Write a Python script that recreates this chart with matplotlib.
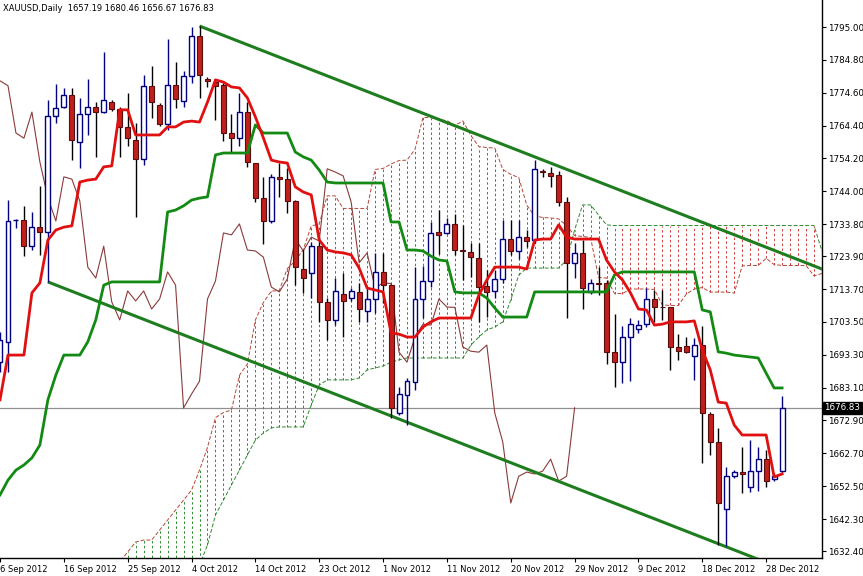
import numpy as np
import pandas as pd
import matplotlib
matplotlib.use('Agg')
import matplotlib.pyplot as plt
import matplotlib.transforms as mtransforms

# daily bars, XAUUSD 6 Sep 2012 .. 31 Dec 2012 (bar index 0..98)
opens = [1691.0, 1697.3, 1735.0, 1735.1, 1727.0, 1733.0, 1731.4, 1767.4, 1770.2, 1773.9,
         1759.3, 1768.0, 1770.2, 1768.6, 1771.7, 1769.6, 1764.0, 1759.9, 1754.0, 1776.7,
         1770.8, 1764.9, 1777.0, 1772.1, 1779.8, 1792.2, 1778.9, 1778.0, 1777.0, 1762.1,
         1760.5, 1768.6, 1752.8, 1742.0, 1734.8, 1748.5, 1747.8, 1741.0, 1719.9, 1718.7,
         1727.0, 1709.7, 1704.1, 1712.1, 1710.9, 1712.8, 1706.9, 1710.6, 1719.0, 1714.9,
         1675.2, 1680.8, 1684.8, 1710.6, 1716.2, 1731.4, 1731.1, 1733.9, 1725.8, 1725.2,
         1723.3, 1714.6, 1713.1, 1716.8, 1729.2, 1725.5, 1729.8, 1728.9, 1750.1, 1749.7,
         1749.1, 1740.7, 1721.8, 1724.9, 1712.8, 1715.6, 1715.6, 1694.1, 1691.0, 1698.8,
         1701.3, 1702.8, 1710.6, 1708.1, 1708.1, 1695.7, 1696.0, 1692.9, 1696.3, 1674.9,
         1666.2, 1645.4, 1655.6, 1656.9, 1652.2, 1657.2, 1660.9, 1654.7, 1657.19]
highs = [1700.5, 1741.3, 1735.3, 1739.5, 1737.6, 1745.7, 1772.4, 1777.3, 1776.1, 1776.1,
         1773.0, 1778.9, 1771.7, 1787.3, 1772.4, 1770.2, 1774.5, 1765.2, 1780.1, 1782.9,
         1771.4, 1791.3, 1784.2, 1781.4, 1795.0, 1795.3, 1779.5, 1779.0, 1777.6, 1768.0,
         1774.5, 1771.7, 1752.8, 1748.5, 1749.4, 1752.8, 1751.3, 1741.3, 1725.8, 1728.3,
         1729.8, 1711.0, 1717.1, 1718.7, 1714.0, 1715.6, 1714.0, 1724.9, 1724.9, 1715.2,
         1683.3, 1686.1, 1720.5, 1720.8, 1734.5, 1738.2, 1735.7, 1737.0, 1733.6, 1728.0,
         1728.0, 1719.6, 1719.6, 1735.1, 1735.1, 1735.1, 1732.0, 1753.7, 1751.0, 1751.6,
         1750.3, 1742.3, 1728.0, 1728.9, 1716.8, 1720.5, 1716.5, 1706.0, 1702.2, 1704.7,
         1704.1, 1714.0, 1713.4, 1713.4, 1708.1, 1699.7, 1698.8, 1698.5, 1702.2, 1675.5,
         1670.5, 1658.4, 1657.5, 1664.6, 1666.8, 1664.6, 1663.7, 1656.6, 1680.46]
lows = [1688.0, 1687.9, 1732.6, 1723.9, 1725.8, 1724.2, 1715.9, 1765.2, 1769.9, 1753.7,
        1751.3, 1761.5, 1754.7, 1768.3, 1769.0, 1754.7, 1758.1, 1736.0, 1752.2, 1766.8,
        1764.3, 1763.0, 1769.9, 1770.2, 1777.6, 1773.0, 1776.4, 1766.1, 1759.6, 1756.2,
        1758.1, 1751.6, 1740.7, 1727.7, 1734.2, 1742.3, 1737.3, 1715.0, 1712.4, 1710.9,
        1703.4, 1697.9, 1702.5, 1698.8, 1710.0, 1703.4, 1703.4, 1706.3, 1709.4, 1673.6,
        1674.6, 1671.5, 1682.3, 1704.7, 1714.3, 1724.6, 1730.8, 1724.2, 1716.5, 1717.4,
        1703.4, 1705.0, 1711.0, 1715.5, 1724.2, 1723.0, 1726.7, 1728.0, 1748.4, 1745.4,
        1739.5, 1704.7, 1717.1, 1707.5, 1712.0, 1711.8, 1690.4, 1683.3, 1684.5, 1685.1,
        1700.0, 1701.9, 1703.4, 1704.0, 1688.5, 1691.6, 1693.8, 1685.4, 1659.7, 1662.2,
        1634.2, 1633.9, 1655.0, 1650.4, 1650.7, 1651.0, 1652.2, 1654.0, 1656.67]
closes = [1697.9, 1734.8, 1735.1, 1727.0, 1733.0, 1731.4, 1767.4, 1769.9, 1773.9, 1759.9,
          1768.0, 1770.2, 1768.6, 1772.4, 1769.6, 1764.0, 1760.5, 1754.0, 1776.7, 1771.7,
          1764.9, 1777.0, 1772.7, 1779.8, 1792.2, 1780.1, 1778.3, 1776.8, 1762.1, 1760.5,
          1768.6, 1753.1, 1742.0, 1734.8, 1748.5, 1747.8, 1741.0, 1720.5, 1717.1, 1727.0,
          1709.7, 1704.1, 1713.1, 1710.0, 1713.1, 1707.5, 1710.6, 1719.0, 1714.9, 1676.8,
          1681.1, 1685.1, 1710.6, 1716.2, 1731.1, 1730.5, 1733.9, 1725.8, 1725.5, 1723.6,
          1714.3, 1712.8, 1716.8, 1729.2, 1725.5, 1729.8, 1728.6, 1751.0, 1750.0, 1748.8,
          1740.7, 1721.8, 1724.9, 1714.0, 1715.6, 1715.4, 1694.1, 1691.0, 1698.8, 1702.8,
          1702.5, 1710.6, 1708.1, 1708.0, 1695.7, 1694.4, 1694.1, 1696.3, 1675.2, 1666.2,
          1647.3, 1655.6, 1656.9, 1656.3, 1657.2, 1660.9, 1654.1, 1655.6, 1676.83]

# ichimoku lines
tenkan = [1679.3, 1693.2, 1693.2, 1693.2, 1712.5, 1715.6, 1728.9, 1732.0, 1732.9, 1733.3,
          1746.9, 1747.5, 1747.8, 1751.6, 1751.9, 1769.3, 1769.3, 1761.5, 1761.5, 1761.5,
          1761.5, 1764.0, 1764.0, 1765.5, 1765.8, 1765.5, 1771.7, 1778.6, 1777.9, 1776.4,
          1776.1, 1773.0, 1767.1, 1760.6, 1753.7, 1753.1, 1752.8, 1745.4, 1743.8, 1742.9,
          1728.9, 1725.8, 1725.2, 1724.9, 1724.3, 1720.2, 1714.0, 1713.4, 1712.8, 1700.1,
          1699.7, 1698.8, 1698.8, 1701.9, 1703.5, 1704.7, 1704.7, 1704.7, 1704.7, 1704.7,
          1711.8, 1716.5, 1720.5, 1720.5, 1720.5, 1720.5, 1719.9, 1728.9, 1729.2, 1729.2,
          1733.6, 1729.8, 1729.2, 1729.2, 1729.2, 1729.2, 1722.7, 1719.0, 1716.5, 1712.5,
          1707.5, 1707.2, 1702.5, 1702.8, 1703.5, 1703.5, 1703.5, 1703.8, 1694.8, 1688.6,
          1678.6, 1678.3, 1671.5, 1668.4, 1668.4, 1668.4, 1668.4, 1655.4, 1656.3]
kijun = [1649.8, 1654.4, 1657.5, 1659.1, 1661.3, 1665.3, 1679.3, 1687.0, 1693.2, 1693.2,
         1693.2, 1697.3, 1704.1, 1714.9, 1715.9, 1715.9, 1715.9, 1715.9, 1715.9, 1715.9,
         1715.9, 1737.6, 1738.2, 1739.5, 1741.3, 1741.9, 1742.3, 1755.3, 1755.9, 1755.9,
         1755.9, 1755.9, 1764.6, 1762.1, 1762.1, 1762.1, 1762.1, 1756.2, 1754.7, 1753.7,
         1750.6, 1746.9, 1746.6, 1746.6, 1746.6, 1746.6, 1746.6, 1746.6, 1746.6, 1734.5,
         1734.5, 1725.8, 1725.8, 1725.5, 1723.9, 1722.7, 1722.4, 1712.8, 1712.5, 1712.5,
         1712.5, 1710.9, 1707.8, 1705.0, 1705.0, 1705.0, 1705.0, 1712.8, 1712.8, 1712.8,
         1712.8, 1712.8, 1712.8, 1712.8, 1712.8, 1712.8, 1712.8, 1718.1, 1719.0, 1719.0,
         1719.0, 1719.0, 1719.0, 1719.0, 1719.0, 1719.0, 1719.0, 1719.0, 1707.2, 1706.6,
         1694.2, 1693.8, 1693.2, 1692.9, 1692.6, 1692.3, 1687.6, 1683.0, 1683.0]
# senkou A for the first 26 bars (older history not in the arrays above)
span_a_head = [1622.0] * 15 + [1629.0, 1632.1, 1635.2, 1635.8, 1635.8, 1638.9, 1642.0,
                               1645.1, 1648.2, 1651.3, 1657.5]
span_b = ([1620.0] * 25 +
          [1628.0, 1634.3, 1643.6, 1648.2, 1652.9, 1657.5, 1662.2, 1666.8, 1669.0, 1670.6,
           1670.9, 1670.9, 1670.9, 1670.9, 1677.7, 1683.9, 1685.5, 1685.5, 1685.5, 1685.5,
           1686.1, 1688.6, 1689.2, 1689.8, 1691.0, 1691.7, 1692.3, 1692.3, 1692.3, 1692.3,
           1692.3, 1692.3, 1692.3, 1692.3, 1696.3, 1698.8, 1701.0, 1701.9, 1703.5, 1710.3,
           1718.0, 1720.2, 1720.2, 1720.2, 1720.2, 1720.2, 1722.7, 1732.0, 1739.8, 1739.8,
           1736.7, 1733.6] + [1733.4] * 26 + [1725.5])

date_pos = [0, 8, 16, 24, 32, 40, 48, 56, 64, 72, 80, 88, 96]
date_lbl = ['6 Sep 2012', '16 Sep 2012', '25 Sep 2012', '4 Oct 2012', '14 Oct 2012',
            '23 Oct 2012', '1 Nov 2012', '11 Nov 2012', '20 Nov 2012', '29 Nov 2012',
            '9 Dec 2012', '18 Dec 2012', '28 Dec 2012']
price_ticks = [1795.00, 1784.80, 1774.60, 1764.40, 1754.20, 1744.00, 1733.80, 1723.90,
               1713.70, 1703.50, 1693.30, 1683.10, 1672.90, 1662.70, 1652.50, 1642.30, 1632.40]

# channel anchors (bar, price)
upper_ch = [(25, 1795.3), (103, 1719.9)]
lower_ch = [(6, 1715.9), (94, 1630.8)]

df = pd.DataFrame({'o': opens, 'h': highs, 'l': lows, 'c': closes})
n = len(df)
x = np.arange(n)
shift = 26
sa = ((pd.Series(tenkan) + pd.Series(kijun)) / 2).values
span_a = np.array(span_a_head + list(sa[:len(span_b) - shift]))
span_b = np.array(span_b)
xs = np.arange(len(span_b))
chikou = df['c'].values[shift:]

plt.rcParams['font.family'] = 'DejaVu Sans'
fig = plt.figure(figsize=(8.63, 5.76), dpi=100)
ax = fig.add_axes([0, 18 / 576, 822 / 863, 558 / 576])

# cloud hatch
up = span_a >= span_b
ax.vlines(xs[up], span_b[up], span_a[up], colors='#2e8b2e', linestyles=(0, (2.5, 2.5)), lw=0.7, zorder=1)
ax.vlines(xs[~up], span_a[~up], span_b[~up], colors='#d23c3c', linestyles=(0, (2.5, 2.5)), lw=0.7, zorder=1)
ax.plot(xs, span_a, color='#b5483a', lw=0.7, ls=(0, (4, 2)), zorder=2)
ax.plot(xs, span_b, color='#2e8b2e', lw=0.7, ls=(0, (4, 2)), zorder=2)

# chikou
ax.plot(x[:len(chikou)], chikou, color='#8b3a3a', lw=0.8, zorder=2)

# channel
for pts in (upper_ch, lower_ch):
    (x0, y0), (x1, y1) = pts
    k = (y1 - y0) / (x1 - x0)
    cx = np.array([x0, 104])
    ax.plot(cx, y0 + k * (cx - x0), color='#1e7d1e', lw=2.2, zorder=3, solid_capstyle='butt')

# candles
bull = df['c'] >= df['o']
wick_col = np.where(bull, '#000080', '#000000')
ax.vlines(x, df['l'], df['h'], colors=wick_col, lw=1, zorder=4)
body_lo = np.minimum(df['o'], df['c'])
body_h = np.maximum((df['c'] - df['o']).abs(), 0.25)
ax.bar(x[bull], body_h[bull], bottom=body_lo[bull], width=0.62, color='white',
       edgecolor='#000080', lw=1, zorder=5)
ax.bar(x[~bull], body_h[~bull], bottom=body_lo[~bull], width=0.62, color='#c0201c',
       edgecolor='#5a0d0d', lw=0.8, zorder=5)

# tenkan / kijun
ax.plot(x, kijun, color='#138a13', lw=2, zorder=6)
ax.plot(x, tenkan, color='#e01010', lw=2, zorder=6)

# bid line
last = closes[-1]
ax.axhline(last, color='#909090', lw=0.9, zorder=0)

ax.set_xlim(0.25, 103.0)
ax.set_ylim(1630.23, 1803.38)
for s in ('top', 'left'):
    ax.spines[s].set_visible(False)
for s in ('right', 'bottom'):
    ax.spines[s].set_linewidth(1)
    ax.spines[s].set_color('black')
ax.yaxis.tick_right()
ax.set_yticks(price_ticks)
ax.set_yticklabels(['%.2f' % p for p in price_ticks])
ax.set_xticks(date_pos)
ax.set_xticklabels(date_lbl, ha='left')
ax.tick_params(axis='y', length=3, width=0.8, pad=1.5, labelsize=6.3, colors='black')
ax.tick_params(axis='x', length=3, width=0.8, pad=2, labelsize=6.0, colors='black')

# current price box
tr = mtransforms.blended_transform_factory(ax.transAxes, ax.transData)
ax.text(1.003, last, '%.2f' % last, transform=tr, fontsize=6.3, color='white',
        va='center', ha='left', zorder=10,
        bbox=dict(boxstyle='square,pad=0.2', fc='black', ec='black'))

fig.text(3 / 863, 1 - 4 / 576, 'XAUUSD,Daily  1657.19 1680.46 1656.67 1676.83',
         fontsize=6.0, va='top', ha='left', color='black')

fig.savefig('out.png', dpi=100, facecolor='white')
